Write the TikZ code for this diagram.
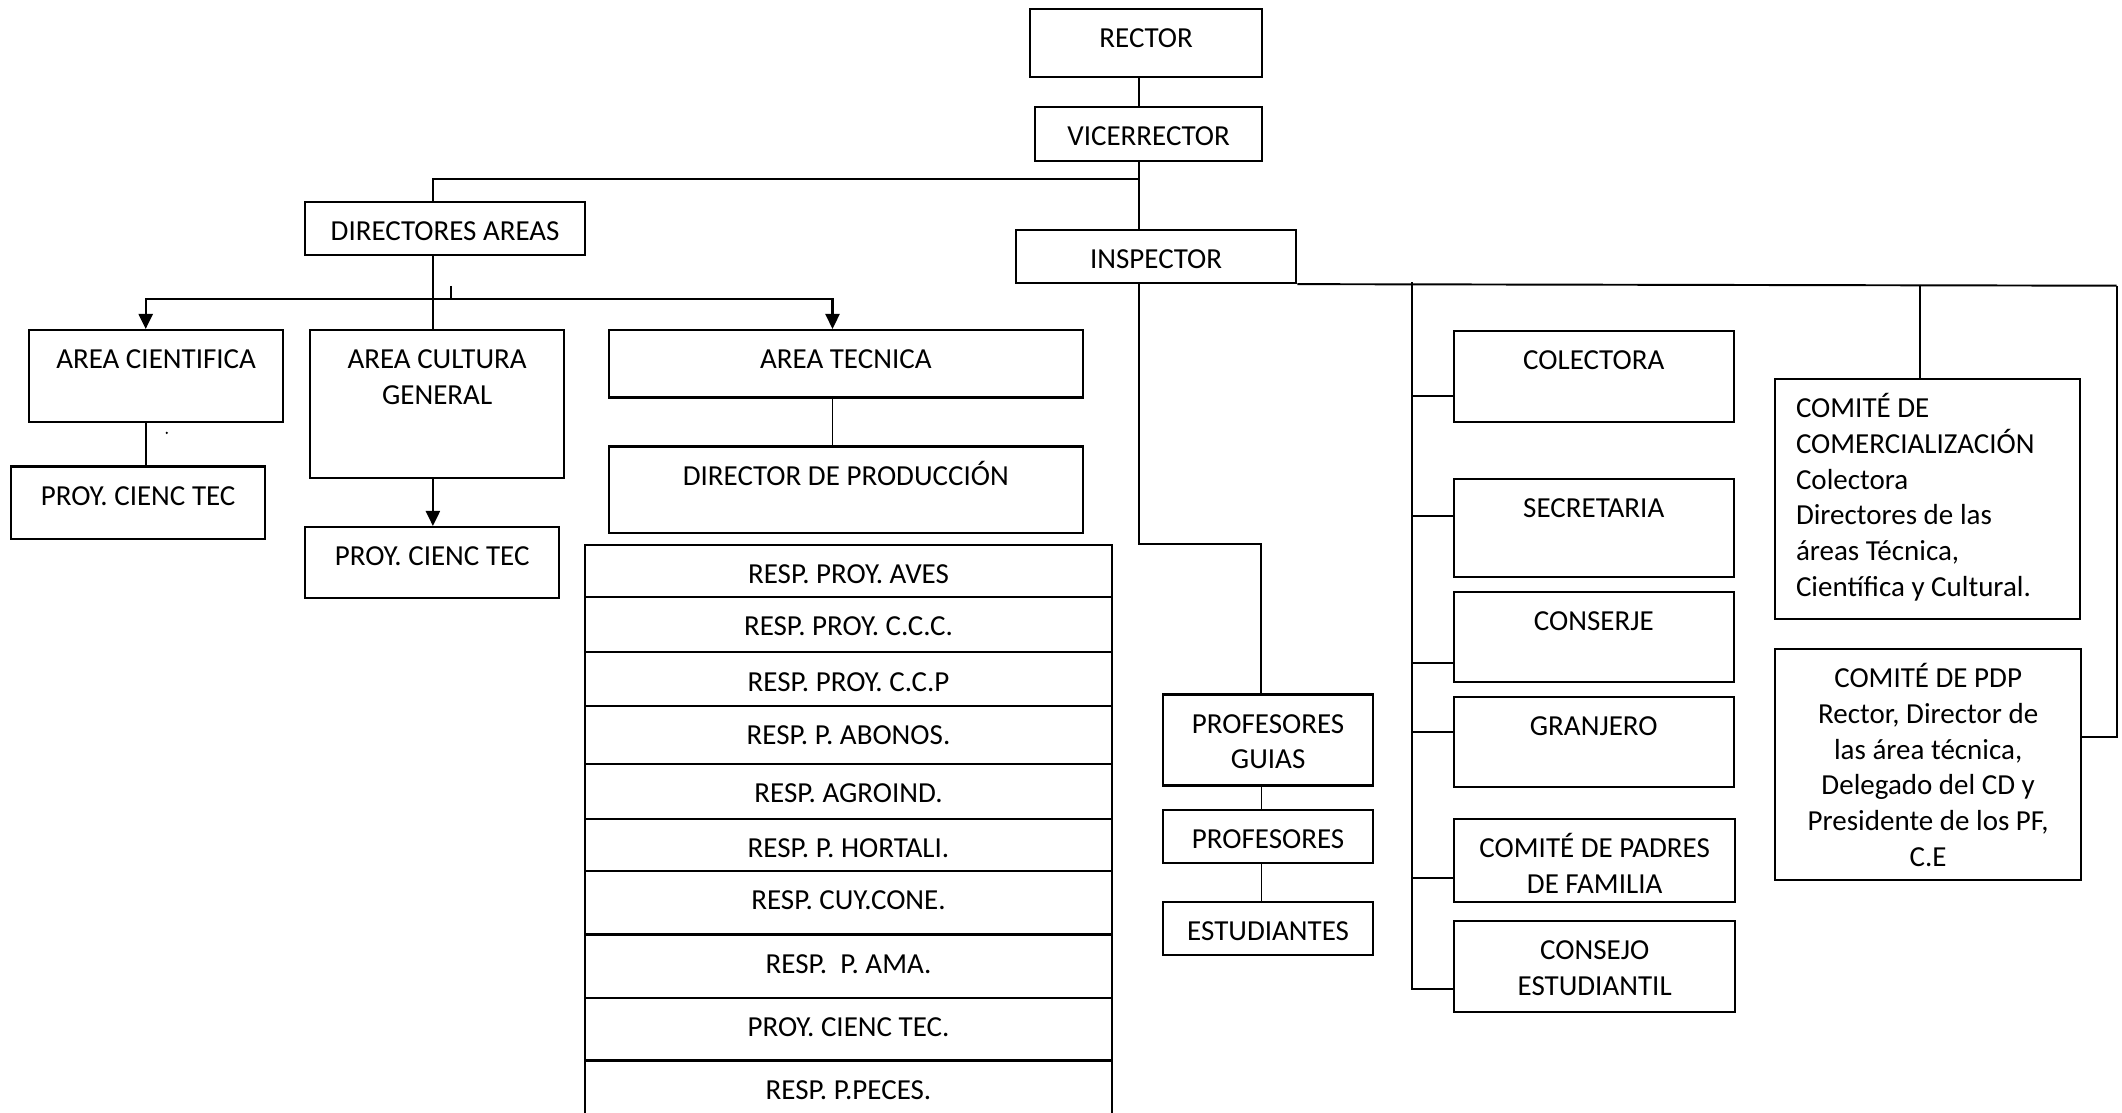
\documentclass[tikz,border=0pt]{standalone}
\usepackage{fontspec}
\setmainfont{Carlito}
\usetikzlibrary{arrows.meta}

\begin{document}
\begin{tikzpicture}[x=0.01cm, y=-0.01cm,
    caja/.style={draw, line width=0.6pt, anchor=north west, inner ysep=0pt, inner xsep=1mm,
      text height=3.88mm, align=flush center, font=\fontsize{8.25pt}{10.15pt}\selectfont},
    linea/.style={line width=0.55pt},
    fina/.style={line width=0.4pt},
    flecha/.style={line width=0.65pt, -{Triangle[length=1.5mm, width=1.4mm]}}]
  \useasboundingbox (0,0) rectangle (2122,1113);

  % direccion
  \node[caja, minimum width=23.2mm, text depth=2.92mm] (rector) at (1029,8) {RECTOR};
  \node[caja, minimum width=22.7mm, text depth=1.48mm] (vice) at (1034,106) {VICERRECTOR};
  \node[caja, minimum width=28.0mm, text depth=1.42mm] (dirar) at (304,201) {DIRECTORES AREAS};
  \node[caja, minimum width=28.0mm, text depth=1.42mm] (insp) at (1015,229) {INSPECTOR};

  % areas
  \node[caja, minimum width=25.4mm, text depth=5.29mm] (acien) at (28,329) {AREA CIENTIFICA};
  \node[caja, text width=23.4mm, text depth=10.9mm] (acult) at (309,329) {AREA CULTURA\\GENERAL};
  \node[caja, minimum width=47.43mm, text depth=2.86mm] (atec) at (607.5,329) {AREA TECNICA};
  \node[caja, minimum width=47.43mm, text depth=4.78mm] (dprod) at (607.5,445.4) {DIRECTOR DE PRODUCCIÓN};
  \node[caja, minimum width=25.4mm, text depth=3.33mm] (pcien1) at (10,465.4) {PROY. CIENC TEC};
  \node[caja, minimum width=25.4mm, text depth=3.18mm] (pcien2) at (304,526) {PROY. CIENC TEC};

  % responsables de proyectos
  \node[caja, minimum width=52.74mm, text depth=1.35mm] (r1) at (583.6,543.6) {RESP. PROY. AVES};
  \node[caja, minimum width=52.74mm, text depth=1.65mm] (r2) at (583.6,595.9) {RESP. PROY. C.C.C.};
  \node[caja, minimum width=52.74mm, text depth=1.48mm] (r3) at (583.6,651.2) {RESP. PROY. C.C.P};
  \node[caja, minimum width=52.74mm, text depth=1.94mm] (r4) at (583.6,704.8) {RESP. P. ABONOS.};
  \node[caja, minimum width=52.74mm, text depth=1.62mm] (r5) at (583.6,763) {RESP. AGROIND.};
  \node[caja, minimum width=52.74mm, text depth=1.33mm] (r6) at (583.6,818) {RESP. P. HORTALI.};
  \node[caja, minimum width=52.74mm, text depth=2.45mm] (r7) at (583.6,870.1) {RESP. CUY.CONE.};
  \node[caja, minimum width=52.74mm, text depth=2.44mm] (r8) at (583.6,933.4) {RESP.\ \ P. AMA.};
  \node[caja, minimum width=52.74mm, text depth=2.40mm] (r9) at (583.6,996.6) {PROY. CIENC TEC.};
  \node[caja, minimum width=52.74mm, text depth=2.12mm] (r10) at (583.6,1059.4) {RESP. P.PECES.};

  % profesores
  \node[caja, text width=19.0mm, text depth=5.22mm] (pguias) at (1162,693.4) {PROFESORES\\GUIAS};
  \node[caja, minimum width=21.0mm, text depth=1.45mm] (profs) at (1162,809) {PROFESORES};
  \node[caja, minimum width=21.0mm, text depth=1.47mm] (estud) at (1162,900.5) {ESTUDIANTES};

  % personal y comites
  \node[caja, minimum width=28.02mm, text depth=5.23mm] (colec) at (1452.5,329.6) {COLECTORA};
  \node[caja, minimum width=28.02mm, text depth=5.95mm] (secre) at (1452.5,477.9) {SECRETARIA};
  \node[caja, minimum width=28.02mm, text depth=5.16mm] (conser) at (1452.5,590.5) {CONSERJE};
  \node[caja, minimum width=28.02mm, text depth=5.19mm] (granj) at (1452.5,695.5) {GRANJERO};
  \node[caja, text width=26.06mm, text depth=4.41mm] (padres) at (1453.2,818) {COMITÉ DE PADRES\\DE FAMILIA};
  \node[caja, text width=26.06mm, text depth=5.20mm] (consejo) at (1453.2,920.1) {CONSEJO\\ESTUDIANTIL};
  \node[caja, inner xsep=2.09mm, text width=26.26mm, align=flush left, text depth=20.09mm] (comerc) at (1774,377.9)
    {COMITÉ DE\\COMERCIALIZACIÓN\\Colectora\\Directores de las\\áreas Técnica,\\Científica y Cultural.};
  \node[caja, text width=28.6mm, text depth=19.16mm] (pdp) at (1774,648)
    {COMITÉ DE PDP\\Rector, Director de\\las área técnica,\\Delegado del CD y\\Presidente de los PF,\\C.E};

  % puntos de paso
  \coordinate (eje) at (1138.6,0);
  \coordinate (codoA) at (432.9,178.6);
  \coordinate (marca) at (451,286);
  \coordinate (nudo) at (451,299.3);
  \coordinate (xcien) at (145.7,0);
  \coordinate (xtec) at (832.5,0);
  \coordinate (codoP) at (1261.4,543.6);
  \coordinate (busI) at (1411.8,282.5);
  \coordinate (busC) at (1919.9,284.8);
  \coordinate (fin) at (2116.6,285.7);

  % conexiones
  \draw[linea] (rector.south -| eje) -- (vice.north -| eje);
  \draw[linea] (vice.south -| eje) -- (insp.north -| eje);
  \draw[linea] (dirar.north -| codoA) |- (codoA -| eje);
  \draw[fina] (dirar.south -| codoA) -- (acult.north -| codoA);
  \draw[linea] (marca) -- (nudo);
  \draw[flecha] (nudo) -| (acien.north -| xcien);
  \draw[flecha] (nudo) -| (atec.north -| xtec);
  \draw[linea] (acien.south -| xcien) -- (pcien1.north -| xcien);
  \draw[flecha] (acult.south -| codoA) -- (pcien2.north -| codoA);
  \draw[fina] (atec.south -| xtec) -- (dprod.north -| xtec);
  \draw[linea] (insp.south -| eje) |- (codoP) -- (pguias.north -| codoP);
  \draw[fina] (pguias.south -| codoP) -- (profs.north -| codoP);
  \draw[fina] (profs.south -| codoP) -- (estud.north -| codoP);
  \draw[linea] (insp.south east) -- (fin);
  \draw[linea] (busI) |- ([yshift=-6.68mm]colec.north west);
  \draw[linea] (busI) |- ([yshift=-3.85mm]secre.north west);
  \draw[linea] (busI) |- ([yshift=-7.21mm]conser.north west);
  \draw[linea] (busI) |- ([yshift=-3.68mm]granj.north west);
  \draw[linea] (busI) |- ([yshift=-6.04mm]padres.north west);
  \draw[linea] (busI) |- ([yshift=-6.90mm]consejo.north west);
  \draw[linea] (busC) -- (comerc.north -| busC);
  \draw[linea] (fin) |- ([yshift=2.73mm]pdp.east);
  \fill (166.8,432.9) circle (0.12mm);
\end{tikzpicture}
\end{document}
